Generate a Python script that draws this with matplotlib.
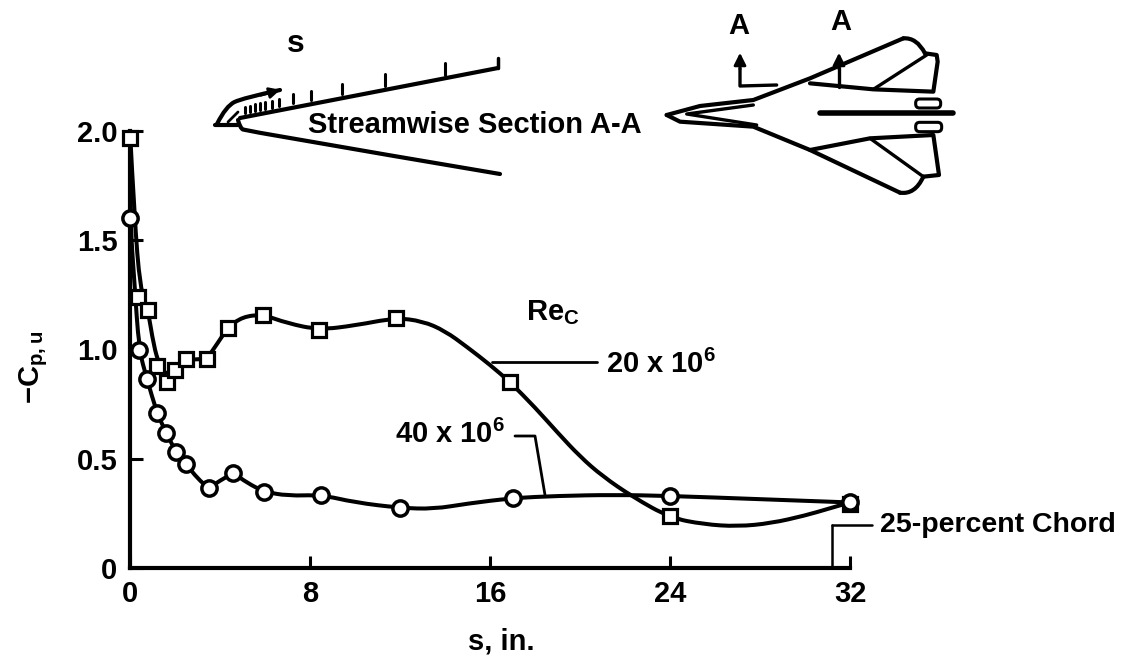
import numpy as np
import matplotlib
matplotlib.use('Agg')
import matplotlib.pyplot as plt
from matplotlib.path import Path
from matplotlib.patches import PathPatch, FancyBboxPatch

plt.rcParams['font.family'] = ['Liberation Sans', 'DejaVu Sans']
plt.rcParams['font.weight'] = 'bold'
plt.rcParams['axes.labelweight'] = 'bold'
plt.rcParams['mathtext.fontset'] = 'custom'
plt.rcParams['mathtext.rm'] = 'Liberation Sans:bold'
plt.rcParams['mathtext.it'] = 'Liberation Sans:bold'
plt.rcParams['mathtext.bf'] = 'Liberation Sans:bold'
plt.rcParams['mathtext.default'] = 'rm'

# measured points, Re_c = 20 x 10^6 (squares)
s_20 = [0, 0.35, 0.8, 1.2, 1.65, 2.0, 2.5, 3.4, 4.35, 5.9, 8.4, 11.8, 16.9, 24, 32]
cp_20 = [1.97, 1.24, 1.18, 0.925, 0.85, 0.905, 0.955, 0.955, 1.10, 1.16, 1.09, 1.145, 0.85, 0.24, 0.295]

# measured points, Re_c = 40 x 10^6 (circles)
s_40 = [0, 0.4, 0.75, 1.2, 1.6, 2.05, 2.5, 3.5, 4.6, 5.95, 8.5, 12, 17, 24, 32]
cp_40 = [1.6, 1.0, 0.865, 0.71, 0.62, 0.53, 0.475, 0.365, 0.435, 0.35, 0.335, 0.275, 0.32, 0.33, 0.30]

# faired curves
fair_s_20 = [0, 0.2, 0.45, 0.8, 1.05, 1.3, 1.65, 2.0, 2.5, 3.4, 3.9, 4.35, 5, 5.9, 7, 8.4, 10, 11.8, 13, 14,
             15, 16, 16.9, 18, 19, 20, 21, 22.35, 24, 25.5, 27, 28.5, 30, 31, 32]
fair_cp_20 = [2.0, 1.6, 1.28, 1.18, 1.02, 0.93, 0.88, 0.91, 0.955, 0.955, 1.03, 1.10, 1.15, 1.16, 1.12, 1.09,
              1.11, 1.145, 1.13, 1.085, 1.01, 0.93, 0.85, 0.735, 0.62, 0.51, 0.42, 0.325, 0.23, 0.20, 0.19,
              0.205, 0.24, 0.27, 0.30]
fair_s_40 = [0, 0, 0.2, 0.4, 0.75, 1.2, 1.6, 2.05, 2.5, 3, 3.5, 4, 4.6, 5.2, 5.95, 7, 8.5, 10, 12, 13.5, 15, 17,
             19, 21.5, 24, 28, 32]
fair_cp_40 = [2.0, 1.6, 1.3, 1.0, 0.865, 0.71, 0.62, 0.53, 0.475, 0.41, 0.365, 0.40, 0.435, 0.39, 0.35, 0.33,
              0.335, 0.30, 0.275, 0.27, 0.295, 0.32, 0.33, 0.335, 0.33, 0.315, 0.30]

x_ticks = [0, 8, 16, 24, 32]
x_tick_labels = ['0', '8', '16', '24', '32']
y_ticks = [0, 0.5, 1.0, 1.5, 2.0]
y_tick_labels = ['0', '0.5', '1.0', '1.5', '2.0']

W, H = 1131, 670
LW = 2.9


def smooth_path(xs, ys):
    # quadratic segments, each read point is the control point
    pts = list(zip(xs, ys))
    verts = [pts[0]]
    codes = [Path.MOVETO]
    for i in range(1, len(pts) - 1):
        if i < len(pts) - 2:
            end = ((pts[i][0] + pts[i + 1][0]) / 2, (pts[i][1] + pts[i + 1][1]) / 2)
        else:
            end = pts[i + 1]
        verts += [pts[i], end]
        codes += [Path.CURVE3, Path.CURVE3]
    return Path(verts, codes)


def add_curve(ax, xs, ys, lw=LW):
    ax.add_patch(PathPatch(smooth_path(xs, ys), fc='none', ec='black', lw=lw, capstyle='round', clip_on=False))


def line(ax, xs, ys, lw=2.0):
    ax.plot(xs, ys, color='black', lw=lw, solid_capstyle='round', solid_joinstyle='round', clip_on=False)


fig = plt.figure(figsize=(W / 100, H / 100), dpi=100)
ax = fig.add_axes([130 / W, (H - 568) / H, 720 / W, 437 / H])
ax.set_xlim(0, 32)
ax.set_ylim(0, 2)

add_curve(ax, fair_s_20, fair_cp_20)
add_curve(ax, fair_s_40, fair_cp_40)
ax.plot(s_20, cp_20, ls='none', marker='s', ms=9.5, mfc='white', mec='black', mew=2.3, clip_on=False, zorder=4)
ax.plot(s_40, cp_40, ls='none', marker='o', ms=11, mfc='white', mec='black', mew=2.5, clip_on=False, zorder=5)

for side in ['top', 'right']:
    ax.spines[side].set_visible(False)
ax.spines['left'].set_linewidth(3)
ax.spines['bottom'].set_linewidth(3)
ax.set_xticks(x_ticks)
ax.set_xticklabels(x_tick_labels)
ax.set_yticks(y_ticks)
ax.set_yticklabels(y_tick_labels)
ax.tick_params(axis='both', direction='in', length=9, width=2.2, labelsize=21, pad=9)
ax.set_xlabel('s, in.', fontsize=21)
ax.xaxis.set_label_coords((501 - 130) / 720, -(628 - 568) / 437)
ax.set_ylabel(r'$-C_{p,u}$', fontsize=21)
ax.yaxis.set_label_coords((50 - 130) / 720, (568 - 367) / 437)
ax.patch.set_alpha(0)

# overlay in picture pixels for the sketches and the notes
ov = fig.add_axes([0, 0, 1, 1], zorder=6)
ov.set_xlim(0, W)
ov.set_ylim(H, 0)
ov.axis('off')

# streamwise section sketch
line(ov, [215, 238], [125, 125], 3)
line(ov, [240, 498], [118, 68], 3)
line(ov, [498, 498], [68, 58], 2.5)
add_curve(ov, [238, 240, 246, 500], [120, 128, 131, 174], 3)
add_curve(ov, [217, 226, 243, 280], [124, 106, 98, 90], 3)
line(ov, [228, 238], [122, 112], 2)
for x0, y0, tick in [(245, 113, 6), (250, 112, 6), (255, 111, 7), (260, 110, 7), (265, 109, 7), (272, 108, 7),
                     (279, 106, 7), (293, 103, 9), (311, 100, 9), (342, 94, 10), (385, 86, 12), (445, 75, 12)]:
    line(ov, [x0, x0], [y0, y0 - tick], 2.2)
ov.annotate('', xy=(283, 89), xytext=(258, 96),
            arrowprops=dict(arrowstyle='-|>', color='black', lw=2, mutation_scale=16))
ov.text(296, 44, 's', fontsize=23, ha='center', va='center')
ov.text(475, 125, 'Streamwise Section A-A', fontsize=21, ha='center', va='center')


# planform sketch
def plane(xs, ys, lw=2.4):
    line(ov, [640 + x / 3 for x in xs], [y / 3 for y in ys], lw)


plane([80, 180, 340, 510, 790], [345, 318, 300, 235, 115], 3)
add_curve(ov, [640 + 790 / 3, 640 + 830 / 3, 640 + 855 / 3], [115 / 3, 112 / 3, 160 / 3], 3)
plane([855, 890, 893, 880, 700, 510], [160, 165, 185, 275, 268, 250], 3)
plane([700, 860], [268, 165])
plane([80, 120, 340, 510, 780], [345, 365, 380, 450, 578], 3)
add_curve(ov, [640 + 780 / 3, 640 + 825 / 3, 640 + 850 / 3], [578 / 3, 585 / 3, 530 / 3], 3)
plane([850, 897, 880, 690, 510], [530, 525, 405, 415, 450], 3)
plane([690, 850], [415, 530])
plane([340, 140, 350], [315, 342, 375])
plane([540, 940], [340, 340], 4)
for x0, y0, w, h in [(827, 297, 75, 27), (827, 367, 78, 28)]:
    ov.add_patch(FancyBboxPatch((640 + x0 / 3, y0 / 3), w / 3, h / 3, boxstyle='round,pad=0,rounding_size=4',
                                fc='white', ec='black', lw=2.2, zorder=3))
plane([300, 300, 410], [205, 258, 255])
plane([598, 598], [205, 260])
for ax_x in [740, 839]:
    ov.annotate('', xy=(ax_x, 50), xytext=(ax_x, 72),
                arrowprops=dict(arrowstyle='-|>', color='black', lw=2, mutation_scale=18))
ov.text(739, 26, 'A', fontsize=21, ha='center', va='center')
ov.text(841, 22, 'A', fontsize=21, ha='center', va='center')

# notes and leaders
ov.text(553, 313, r'$Re_C$', fontsize=21, ha='center', va='center')
line(ov, [492, 597], [362, 362])
ov.text(606, 364, r'20 x $10^6$', fontsize=21, ha='left', va='center')
ov.text(395, 434, r'40 x $10^6$', fontsize=21, ha='left', va='center')
line(ov, [515, 535, 545], [436, 436, 495])
line(ov, [832, 872], [525, 525], 1.8)
line(ov, [832, 832], [525, 568], 1.8)
ov.text(880, 525, '25-percent Chord', fontsize=20.5, ha='left', va='center')

fig.savefig('out.png', dpi=100)
